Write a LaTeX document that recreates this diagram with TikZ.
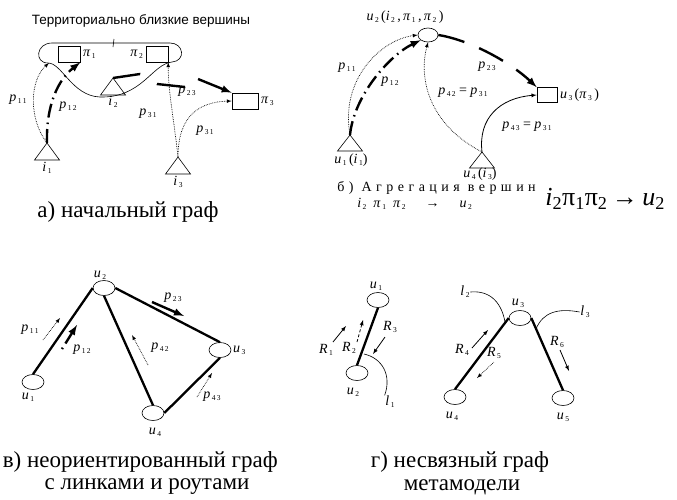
\documentclass[tikz,border=0pt]{standalone}
\usepackage{fontspec}
\setmainfont{Liberation Serif}
\newfontfamily\hdrfont{Liberation Sans}
\usetikzlibrary{shapes.geometric, positioning}

% метка с разреженным индексом
\newcommand{\ix}[2]{\textit{#1}\kern1.5pt\raisebox{-0.3ex}{\fontsize{7.5}{8}\selectfont #2}}

\begin{document}
\begin{tikzpicture}[>=latex, x=1pt, y=-1pt, line width=0.6pt,
    lbl/.style={font=\fontsize{14}{15}\selectfont, inner sep=0.5pt},
    capt/.style={font=\fontsize{23}{26}\selectfont, inner sep=0pt},
    box/.style={draw, minimum width=22pt, minimum height=16pt, inner sep=0pt},
    vert/.style={draw, ellipse, minimum width=22pt, minimum height=15pt, inner sep=0pt},
    link/.style={line width=2.3pt},
    route/.style={->, densely dotted, line width=0.7pt},
    fatdash/.style={->, line width=2.4pt, dash pattern=on 27pt off 16pt},
    fatdot/.style={->, line width=2.4pt, dash pattern=on 14pt off 5pt on 1.5pt off 5pt},
    rel/.style={->, line width=0.8pt}]
    \useasboundingbox (0,0) rectangle (677,499);

    % 1. а) начальный граф
    \node[font=\hdrfont\fontsize{13.5}{15}\selectfont, inner sep=0pt] (hdr) at (141,21) {Территориально близкие вершины};
    \draw (52,43) -- (170,43) .. controls (184,43) and (186,61) .. (172,62)
      .. controls (152,64) and (142,98) .. (100,97)
      .. controls (72,96) and (62,63) .. (48,63)
      .. controls (34,63) and (36,43) .. (52,43);
    \draw (114,39) -- (113,47);

    \node[box] (pi1) at (69,54) {};
    \node[box] (pi2) at (157,54) {};
    \node[box, minimum width=26pt] (pi3) at (245,101) {};
    \node[lbl, right=2pt of pi1] (pi1l) {\ix{π}{1}};
    \node[lbl, left=2pt of pi2] (pi2l) {\ix{π}{2}};
    \node[lbl, right=2pt of pi3] (pi3l) {\ix{π}{3}};

    \coordinate (i1) at (47,143);
    \coordinate (i2) at (113,78);
    \coordinate (i3) at (178,157);
    \foreach \t in {i1,i2,i3}
      \draw (\t) -- ++(-12.5,17) -- ++(25,0) -- cycle;
    \node[lbl] (i1l) at (47,168) {\ix{i}{1}};
    \node[lbl] (i2l) at (113,102) {\ix{i}{2}};
    \node[lbl] (i3l) at (178,182) {\ix{i}{3}};

    \coordinate (rg) at (49,63);
    \draw[route] (i1) .. controls (28,118) and (30,80) .. (rg);
    \draw[fatdot] (i1) .. controls (46,105) and (58,80) .. (pi1.south east);
    \draw[->, line width=2.4pt, dash pattern=on 27.3pt off 19.7pt on 28.2pt off 15.3pt on 40pt]
      (i2) -- (140,74) -- (157,84) -- (185,87) -- (198,79) -- (pi3.north west);
    \draw[route] (i3) .. controls (174,120) and (168,90) .. (pi2.south east);
    \draw[route] (i3) .. controls (178,115) and (200,102) .. (pi3.west);

    \node[lbl] (p11a) at (18,100) {\ix{p}{1\,1}};
    \node[lbl] (p12a) at (68,107) {\ix{p}{1\,2}};
    \node[lbl] (p23a) at (187,92) {\ix{p}{2\,3}};
    \node[lbl] (p31a) at (148,114) {\ix{p}{3\,1}};
    \node[lbl] (p31b) at (205,131) {\ix{p}{3\,1}};
    \node[capt] (capa) at (128,212) {а) начальный граф};

    % 2. б) агрегация вершин
    \node[vert, minimum width=20pt, minimum height=14pt] (bu2) at (428,35) {};
    \node[box, minimum width=20pt, minimum height=15pt] (bu3) at (547,95) {};
    \coordinate (bu1) at (350,135);
    \coordinate (bu4) at (482,152);
    \foreach \t in {bu1,bu4}
      \draw (\t) -- ++(-12.5,16) -- ++(25,0) -- cycle;
    \node[lbl] (bu2l) at (405,17) {\ix{u}{2}\,(\ix{i}{2}\,,\,\ix{π}{1}\,,\,\ix{π}{2}\,)};
    \node[lbl, right=2pt of bu3] (bu3l) {\ix{u}{3}\,(\ix{π}{3}\,)};
    \node[lbl] (bu1l) at (351,160) {\ix{u}{1}\,(\ix{i}{1})};
    \node[lbl] (bu4l) at (480,174) {\ix{u}{4}\,(\ix{i}{3})};

    \draw[route] (bu1) .. controls (340,80) and (380,40) .. (bu2.west);
    \draw[fatdot] (bu1) .. controls (354,95) and (390,55) .. (bu2.south west);
    \draw[route] (bu4) .. controls (430,125) and (418,80) .. (bu2.south);
    \draw[fatdash] (bu2.east) .. controls (470,40) and (510,62) .. (bu3.north west);
    \draw[rel] (bu4) .. controls (478,118) and (500,98) .. (bu3.west);

    \node[lbl] (p11b) at (347,68) {\ix{p}{1\,1}};
    \node[lbl] (p12b) at (390,82) {\ix{p}{1\,2}};
    \node[lbl] (p23b) at (487,67) {\ix{p}{2\,3}};
    \node[lbl] (p42b) at (463,93) {\ix{p}{4\,2} = \ix{p}{3\,1}};
    \node[lbl] (p43b) at (527,127) {\ix{p}{4\,3} = \ix{p}{3\,1}};

    \node[anchor=west, inner sep=0pt, font=\fontsize{14}{15}\selectfont\addfontfeature{LetterSpace=32}] (capb) at (337,188) {б) Агрегация вершин};
    \node[lbl, anchor=west, inner sep=0pt] (capb2) at (357,204) {\ix{i}{2}\enspace\ix{π}{1}\enspace\ix{π}{2}\hspace{20pt}→\hspace{20pt}\ix{u}{2}};
    \node[anchor=west, inner sep=0pt, font=\fontsize{26}{28}\selectfont] (capb3) at (545,199)
      {\textit{i}\textsubscript{2}π\textsubscript{1}π\textsubscript{2}\,→\,\textit{u}\textsubscript{2}};

    % 3. в) неориентированный граф
    \node[vert] (cu1) at (33,382) {};
    \node[vert] (cu2) at (104,288) {};
    \node[vert] (cu3) at (220,350) {};
    \node[vert] (cu4) at (153,413) {};
    \foreach \a/\b in {cu1.north/cu2.west, cu2.east/cu3.north, cu2.south/cu4.north, cu4.east/cu3.south}
      \draw[link] (\a) -- (\b);
    \node[lbl] (cu1l) at (28,397) {\ix{u}{1}};
    \node[lbl] (cu2l) at (100,275) {\ix{u}{2}};
    \node[lbl, right=1pt of cu3] (cu3l) {\ix{u}{3}};
    \node[lbl] (cu4l) at (155,432) {\ix{u}{4}};

    \draw[route] (43,340) -- (60,318);
    \draw[->, line width=2.4pt, dash pattern=on 1.5pt off 5pt on 30pt] (62,349) -- (77,325);
    \draw[->, line width=2.4pt] (152,302) -- (184,316);
    \draw[route] (148,365) -- (132,335);
    \draw[route] (197,397) -- (212,373);
    \node[lbl] (p11c) at (30,330) {\ix{p}{1\,1}};
    \node[lbl] (p12c) at (82,350) {\ix{p}{1\,2}};
    \node[lbl] (p23c) at (173,298) {\ix{p}{2\,3}};
    \node[lbl] (p42c) at (160,348) {\ix{p}{4\,2}};
    \node[lbl] (p43c) at (212,397) {\ix{p}{4\,3}};

    \node[capt, anchor=east] (capc) at (278,462) {в) неориентированный граф};
    \node[capt] (capc2) at (147,487) {с линками и роутами};

    % 4. г) несвязный граф метамодели
    \node[vert] (du1) at (378,300) {};
    \node[vert] (du2) at (357,373) {};
    \node[vert] (du3) at (520,318) {};
    \node[vert] (du4) at (455,397) {};
    \node[vert] (du5) at (563,398) {};
    \foreach \a/\b in {du2.north/du1.south, du3.west/du4.north, du3.east/du5.north}
      \draw[link] (\a) -- (\b);
    \node[lbl] (du1l) at (376,286) {\ix{u}{1}};
    \node[lbl] (du2l) at (353,392) {\ix{u}{2}};
    \node[lbl] (du3l) at (518,303) {\ix{u}{3}};
    \node[lbl] (du4l) at (452,416) {\ix{u}{4}};
    \node[lbl] (du5l) at (563,417) {\ix{u}{5}};

    \node[lbl] (dl1) at (390,402) {\ix{l}{1}};
    \node[lbl] (dl2) at (465,292) {\ix{l}{2}};
    \node[lbl] (dl3) at (585,312) {\ix{l}{3}};
    \draw (364,354) .. controls (382,358) and (392,375) .. (dl1.north west);
    \draw (dl2.east) .. controls (492,290) and (502,305) .. (505,322);
    \draw (536,329) .. controls (543,312) and (558,308) .. (dl3.west);

    \draw[rel] (333,342) -- (346,326);
    \draw[->, densely dashed, line width=0.8pt] (357,342) -- (363,320);
    \draw[rel] (385,337) -- (373,354);
    \draw[rel] (472,348) -- (488,330);
    \draw[route] (494,362) -- (477,378);
    \draw[rel] (560,350) -- (569,371);
    \node[lbl] (R1) at (326,350) {\ix{R}{1}};
    \node[lbl] (R2) at (349,348) {\ix{R}{2}};
    \node[lbl] (R3) at (390,327) {\ix{R}{3}};
    \node[lbl] (R4) at (462,350) {\ix{R}{4}};
    \node[lbl] (R5) at (494,353) {\ix{R}{5}};
    \node[lbl] (R6) at (557,342) {\ix{R}{6}};

    \node[capt] (capd) at (460,462) {г) несвязный граф};
    \node[capt] (capd2) at (462,487) {метамодели};

\end{tikzpicture}
\end{document}
